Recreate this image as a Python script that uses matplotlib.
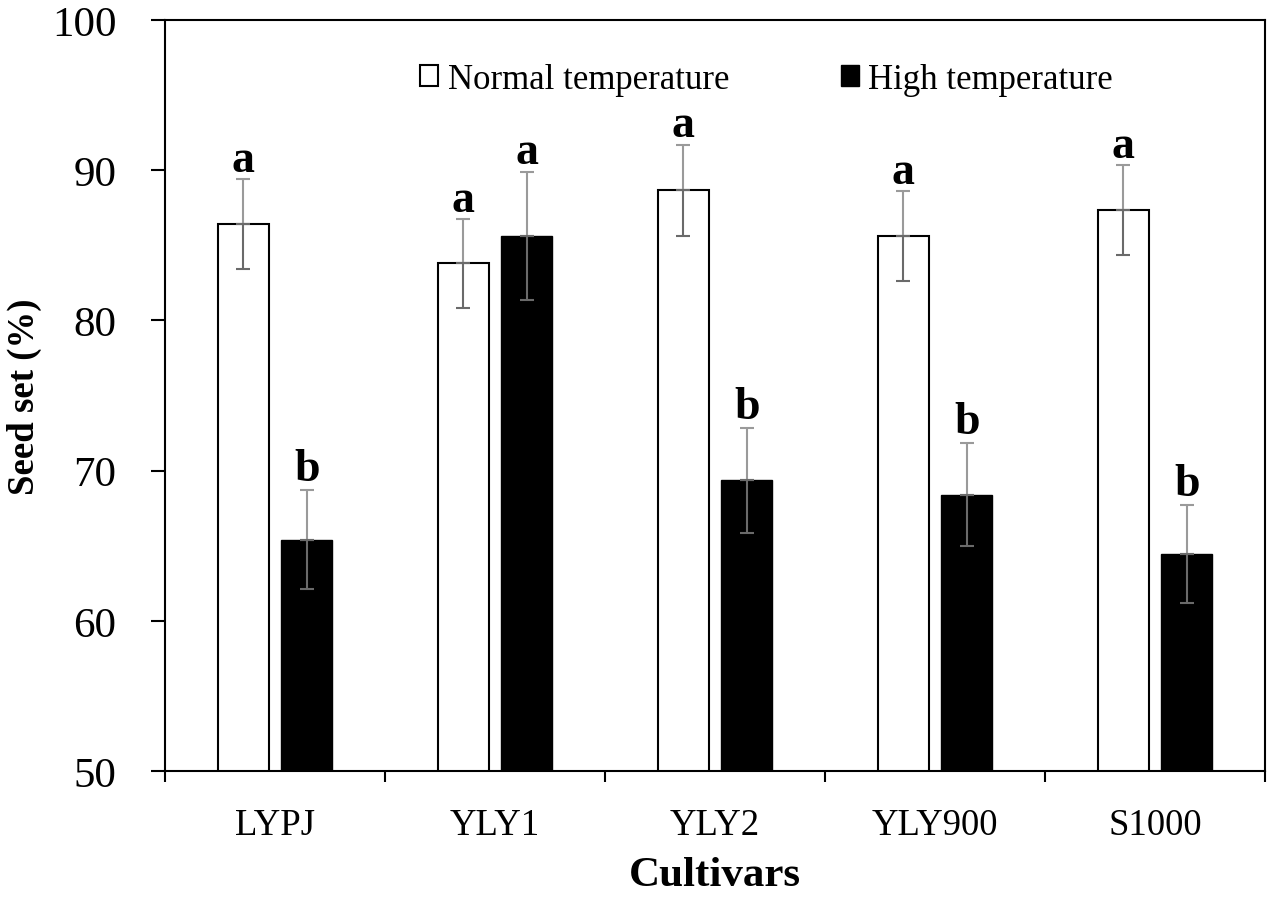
import numpy as np
import matplotlib
matplotlib.use("Agg")
from matplotlib import pyplot as plt

# data
cultivars = ["LYPJ", "YLY1", "YLY2", "YLY900", "S1000"]
normal = [86.4, 83.8, 88.65, 85.6, 87.35]
normal_err = [3.0, 2.95, 3.05, 3.0, 3.0]
high = [65.4, 85.6, 69.35, 68.4, 64.45]
high_err = [3.3, 4.25, 3.5, 3.45, 3.25]
normal_letters = ["a", "a", "a", "a", "a"]
high_letters = ["b", "a", "b", "b", "b"]


def draw_err(ax, x, y, err):
    # Excel style: upper half lighter than lower half
    ax.errorbar(x, y, yerr=[np.zeros(len(err)), err], fmt="none",
                ecolor="#9a9a9a", elinewidth=1.5, capsize=5, capthick=1.5, zorder=3)
    ax.errorbar(x, y, yerr=[err, np.zeros(len(err))], fmt="none",
                ecolor="#6a6a6a", elinewidth=1.5, capsize=5, capthick=1.5, zorder=3)


def main():
    plt.rcParams['font.family'] = ['Liberation Serif', 'DejaVu Serif']

    fig = plt.figure(figsize=(12.67, 9.04), dpi=100)
    ax = fig.add_axes([0.1302, 0.146, 0.8682, 0.8308])

    x = np.arange(len(cultivars))
    width = 0.232
    off = 0.145

    ax.bar(x - off, normal, width, color="white", edgecolor="black",
           linewidth=1.5, label="Normal temperature", zorder=2)
    ax.bar(x + off, high, width, color="black", edgecolor="black",
           linewidth=1.0, label="High temperature", zorder=2)

    draw_err(ax, x - off, normal, normal_err)
    draw_err(ax, x + off, high, high_err)

    # significance letters
    for i in range(len(cultivars)):
        ax.annotate(normal_letters[i], (x[i] - off, normal[i] + normal_err[i]),
                    xytext=(0, 6), textcoords="offset points", ha="center",
                    va="baseline", fontsize=33, fontweight="bold")
        ax.annotate(high_letters[i], (x[i] + off, high[i] + high_err[i]),
                    xytext=(0, 7), textcoords="offset points", ha="center",
                    va="baseline", fontsize=33, fontweight="bold")

    ax.set_xlim(-0.5, len(cultivars) - 0.5)
    ax.set_ylim(50, 100)
    ax.set_yticks(np.arange(50, 101, 10))
    ax.set_xticks(x)
    ax.set_xticklabels(cultivars)
    ax.set_xticks(np.arange(-0.5, len(cultivars), 1.0), minor=True)

    ax.tick_params(axis="x", which="major", length=0, pad=26, labelsize=26.5)
    ax.tick_params(axis="x", which="minor", length=8, width=1.5, direction="out")
    ax.tick_params(axis="y", length=10, width=1.5, direction="out", pad=25, labelsize=31)

    for s in ax.spines.values():
        s.set_linewidth(1.5)

    ax.set_ylabel("Seed set (%)", fontsize=26.5, fontweight="bold")
    ax.yaxis.set_label_coords(-0.112, 0.5)
    ax.set_xlabel("Cultivars", fontsize=31, fontweight="bold")
    ax.xaxis.set_label_coords(0.5, -0.113)

    ax.legend(loc="center", bbox_to_anchor=(0.547, 0.921), ncol=2, frameon=False,
              fontsize=25, handlelength=0.52, handleheight=0.52, handletextpad=0.28,
              columnspacing=3.2, borderpad=0)

    fig.savefig("out.png", dpi=100)


if __name__ == "__main__":
    main()
